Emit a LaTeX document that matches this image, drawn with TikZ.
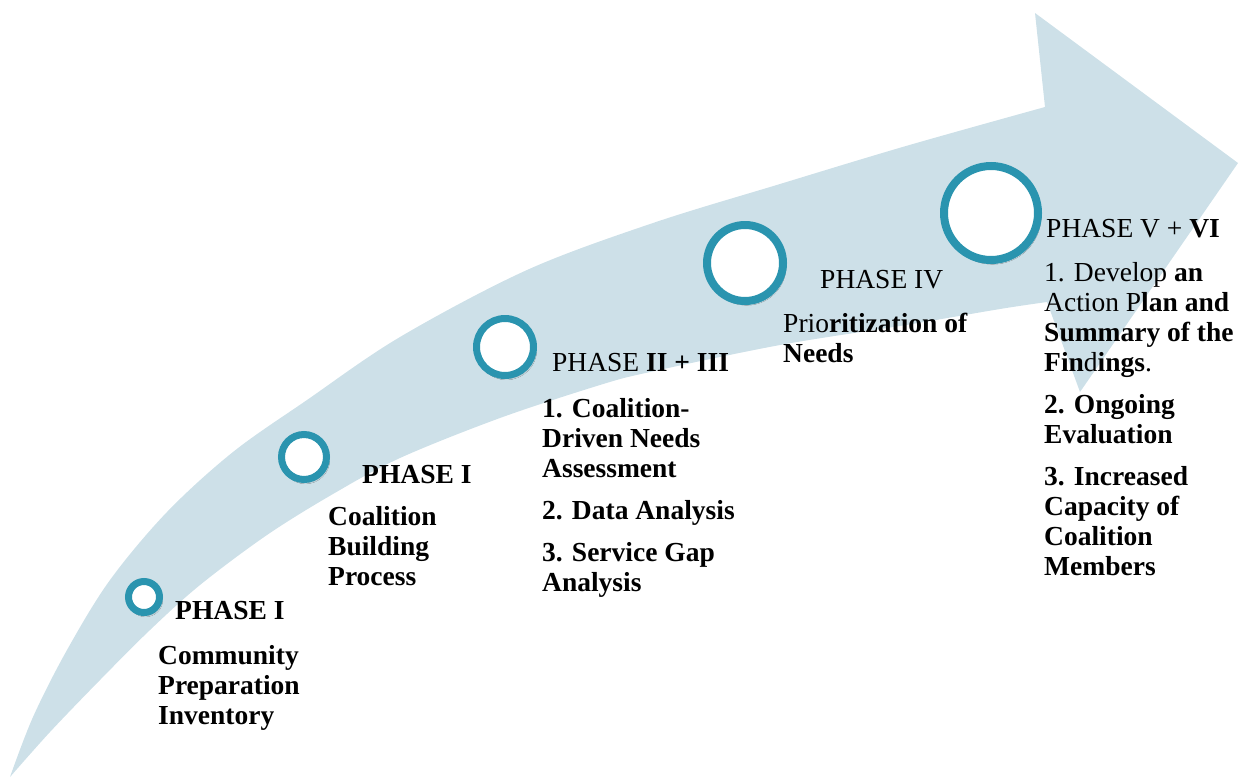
\documentclass[tikz,border=0pt]{standalone}
\usepackage{fontspec}
\setmainfont{Liberation Serif}
\usetikzlibrary{shadows.blur}
\definecolor{arrowfill}{HTML}{CDE0E8}
\definecolor{ringc}{HTML}{2A94AF}
\newcommand{\rg}[1]{{\mdseries #1}}
\begin{document}
\begin{tikzpicture}[x=1pt,y=-1pt,
  ring/.style={circle, draw=ringc, fill=white, inner sep=0pt,
    blur shadow={shadow xshift=1.5pt, shadow yshift=-2.5pt, shadow blur steps=6, shadow opacity=45}},
  lbl/.style={anchor=base west, inner sep=0pt, font=\fontsize{27.5}{30}\selectfont\bfseries}]
\useasboundingbox (0,0) rectangle (1242,777);
% big curved arrow
\fill[arrowfill] (10,777)
  -- plot[smooth, tension=0.55] coordinates {(10,777) (33,717) (67,650) (110,580) (167,512) (233,452) (307,400) (400,337) (527,270) (653,223) (780,184) (906,146) (1045,107)}
  -- (1035,13) -- (1238,163) -- (1080,392) -- (1047,302)
  -- plot[smooth, tension=0.55] coordinates {(1047,302) (1000,309) (906,325) (780,345) (650,372) (600,385) (500,418) (400,458) (333,494) (267,535) (200,585) (150,630) (100,680) (50,732) (10,777)}
  -- cycle;
% circles
\node[ring, line width=7pt, minimum size=31pt] (c1) at (144,597) {};
\node[ring, line width=7pt, minimum size=45pt] (c2) at (304,457) {};
\node[ring, line width=7pt, minimum size=57pt] (c3) at (505,347) {};
\node[ring, line width=8pt, minimum size=76pt] (c4) at (745,263) {};
\node[ring, line width=8pt, minimum size=94pt] (c5) at (991,213) {};
% texts
\node[lbl] (h1) at (175,619) {PHASE I};
\node[lbl] (b1) at (158,664) {\begin{tabular}[t]{@{}l@{}}Community\\Preparation\\Inventory\end{tabular}};
\node[lbl] (h2) at (362,483) {PHASE I};
\node[lbl] (b2) at (328,525) {\begin{tabular}[t]{@{}l@{}}Coalition\\Building\\Process\end{tabular}};
\node[lbl] (h3) at (552,371) {\rg{PHASE} II + III};
\node[lbl] (b3) at (542,417) {\begin{tabular}[t]{@{}l@{}}1. Coalition-\\Driven Needs\\Assessment\\[12pt]2. Data Analysis\\[12pt]3. Service Gap\\Analysis\end{tabular}};
\node[lbl] (h4) at (820,288) {\rg{PHASE IV}};
\node[lbl] (b4) at (783,332) {\begin{tabular}[t]{@{}l@{}}\rg{Prio}ritization of\\Needs\end{tabular}};
\node[lbl] (h5) at (1046,237) {\rg{PHASE V +} VI};
\node[lbl] (b5) at (1044,281) {\begin{tabular}[t]{@{}l@{}}\rg{1. Develop} an\\\rg{Action P}lan and\\Summary of the\\Fin\rg{d}ings\rg{.}\\[12pt]2. Ongoing\\Evaluation\\[12pt]3. Increased\\Capacity of\\Coalition\\Members\end{tabular}};
\end{tikzpicture}
\end{document}
